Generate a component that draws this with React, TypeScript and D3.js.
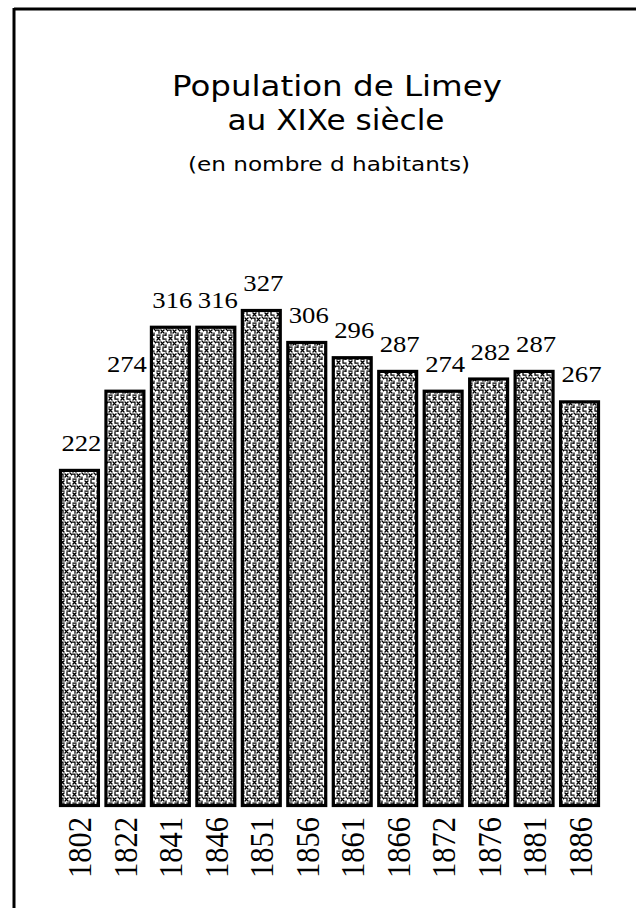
import React from "react";
import * as d3 from "d3";

const years = ["1802", "1822", "1841", "1846", "1851", "1856", "1861", "1866", "1872", "1876", "1881", "1886"];
const population = [222, 274, 316, 316, 327, 306, 296, 287, 274, 282, 287, 267];
const titleLines = ["Population de Limey", "au XIXe siècle"];
const subtitle = "(en nombre d habitants)";

const W = 636;
const H = 908;

export default function App() {
  const x = d3.scaleBand<string>().domain(years).range([59, 600]).paddingInner(0.1).paddingOuter(0);
  const y = d3.scaleLinear().domain([0, 327]).range([807, 309]);
  const bw = x.bandwidth();

  return (
    <svg
      width={W}
      height={H}
      style={{ position: "absolute", left: 0, top: 0, background: "#fff" }}
      xmlns="http://www.w3.org/2000/svg"
    >
      <defs>
        <pattern id="stip" width="12" height="12" patternUnits="userSpaceOnUse">
          <rect width="12" height="12" fill="#fff" />
          <path
            d="M1 1 L4 4 M4 1 L1 4 M7 0 V3 H10 M10 5 L12 7 M0 6 H3 V9 M5 6 L8 9 M8 6 L5 9 M10 9 V12 M1 11 H4 M7 11 L9 11"
            stroke="#000"
            strokeWidth={1.25}
            strokeLinecap="square"
            fill="none"
          />
        </pattern>
      </defs>
      <rect width={W} height={H} fill="#fff" />
      {/* frame */}
      <line x1={14} y1={9} x2={636} y2={9} stroke="#000" strokeWidth={3} />
      <line x1={14} y1={8} x2={14} y2={908} stroke="#000" strokeWidth={3} />

      {/* titles */}
      <text x={337} y={96} textAnchor="middle" fontFamily="DejaVu Sans" fontSize={29} textLength={330} lengthAdjust="spacingAndGlyphs" fill="#000">
        {titleLines[0]}
      </text>
      <text x={336} y={130} textAnchor="middle" fontFamily="DejaVu Sans" fontSize={29} textLength={217} lengthAdjust="spacingAndGlyphs" fill="#000">
        {titleLines[1]}
      </text>
      <text x={329} y={171} textAnchor="middle" fontFamily="DejaVu Sans" fontSize={20} textLength={282} lengthAdjust="spacingAndGlyphs" fill="#000">
        {subtitle}
      </text>

      {/* bars */}
      {years.map((yr, i) => {
        const x0 = x(yr)!;
        const top = y(population[i]);
        return (
          <g key={yr}>
            <rect
              x={x0 + 1.5}
              y={top + 1.5}
              width={bw - 3}
              height={y(0) - top - 3}
              fill="url(#stip)"
              stroke="#000"
              strokeWidth={3.2}
            />
            <text
              x={x0 + bw / 2 + 2}
              y={top - 18}
              textAnchor="middle"
              fontFamily="Liberation Serif"
              fontSize={24}
              textLength={40}
              lengthAdjust="spacingAndGlyphs"
              fill="#000"
            >
              {population[i]}
            </text>
            <text
              transform={`translate(${x0 + bw / 2 + 12},878) rotate(-90)`}
              textAnchor="start"
              fontFamily="Liberation Serif"
              fontSize={34}
              textLength={61}
              lengthAdjust="spacingAndGlyphs"
              fill="#000"
            >
              {yr}
            </text>
          </g>
        );
      })}
    </svg>
  );
}
